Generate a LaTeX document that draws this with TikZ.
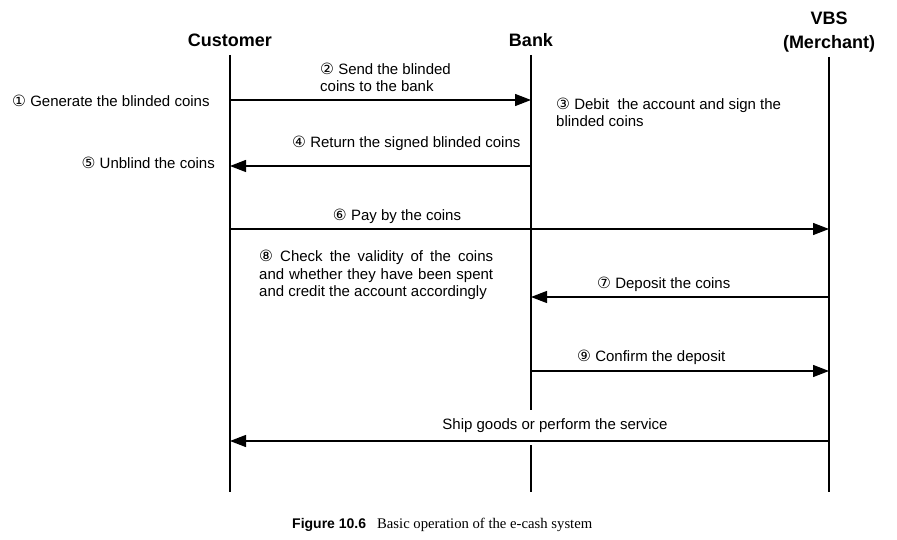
\documentclass[tikz,border=0pt]{standalone}
\usepackage{fontspec}
\setmainfont{Liberation Sans}
\newfontfamily\circfont{DejaVu Sans}
\newfontfamily\capserif{Liberation Serif}
\usetikzlibrary{arrows.meta}
\newcommand{\cnum}[1]{{\circfont\fontsize{15.5}{15}\selectfont #1}}
\begin{document}
\begin{tikzpicture}[x=1pt,y=-1pt,
  lab/.style={font=\fontsize{15}{17.5}\selectfont, inner sep=0pt},
  msg/.style={line width=1.3pt, -{Triangle[length=16pt,width=12pt]}},
  life/.style={line width=1.3pt},
  head/.style={font=\fontsize{18}{24}\bfseries\selectfont, inner sep=0pt, align=center}]
\useasboundingbox (0,0) rectangle (897,540);

% headings
\node[head] (cust) at (230,40) {Customer};
\node[head] (bank) at (531,40) {Bank};
\node[head] (vbs) at (829,32) {VBS\\(Merchant)};

% lifelines
\coordinate (cT) at (230,55);  \coordinate (cB) at (230,492);
\coordinate (bT) at (531,55);  \coordinate (bB) at (531,492);
\coordinate (vT) at (829,57);  \coordinate (vB) at (829,492);
\coordinate (bG1) at (531,410); \coordinate (bG2) at (531,445);
\draw[life] (cT) -- (cB);
\draw[life] (bT) -- (bG1);
\draw[life] (bG2) -- (bB);
\draw[life] (vT) -- (vB);

% message points
\coordinate (c2) at (230,100); \coordinate (b2) at (531,100);
\coordinate (b4) at (531,166); \coordinate (c4) at (230,166);
\coordinate (c6) at (230,229); \coordinate (v6) at (829,229);
\coordinate (v7) at (829,297); \coordinate (b7) at (531,297);
\coordinate (b9) at (531,371); \coordinate (v9) at (829,371);
\coordinate (vS) at (829,441); \coordinate (cS) at (230,441);

\draw[msg] (c2) -- (b2);
\draw[msg] (b4) -- (c4);
\draw[msg] (c6) -- (v6);
\draw[msg] (v7) -- (b7);
\draw[msg] (b9) -- (v9);
\draw[msg] (vS) -- (cS);

% labels
\node[lab, anchor=west] (l1) at (12,101) {\cnum{①} Generate the blinded coins};
\node[lab, anchor=west, align=left] (l2) at (320,77.5) {\cnum{②} Send the blinded\\coins to the bank};
\node[lab, anchor=west, align=left] (l3) at (556,112.5) {\cnum{③} Debit\ \ the account and sign the\\blinded coins};
\node[lab, anchor=west] (l4) at (292,143) {\cnum{④} Return the signed blinded coins};
\node[lab, anchor=east] (l5) at (215,163) {\cnum{⑤} Unblind the coins};
\node[lab] (l6) at (397,216) {\cnum{⑥} Pay by the coins};
\node[lab, anchor=west, align=left] (l8) at (259,275)
  {\makebox[234pt][s]{\cnum{⑧} Check the validity of the coins}\\
   \makebox[234pt][s]{and whether they have been spent}\\
   and credit the account accordingly};
\node[lab, anchor=west] (l7) at (597,284) {\cnum{⑦} Deposit the coins};
\node[lab, anchor=west] (l9) at (577,357) {\cnum{⑨} Confirm the deposit};
\node[lab] (lS) at (555,426) {Ship goods or perform the service};

% caption
\node[inner sep=0pt, anchor=base west] (cap) at (292,528)
  {{\fontsize{14}{16}\bfseries\selectfont Figure 10.6}\hspace{11pt}{\capserif\fontsize{14.7}{16}\selectfont Basic operation of the e-cash system}};
\end{tikzpicture}
\end{document}
